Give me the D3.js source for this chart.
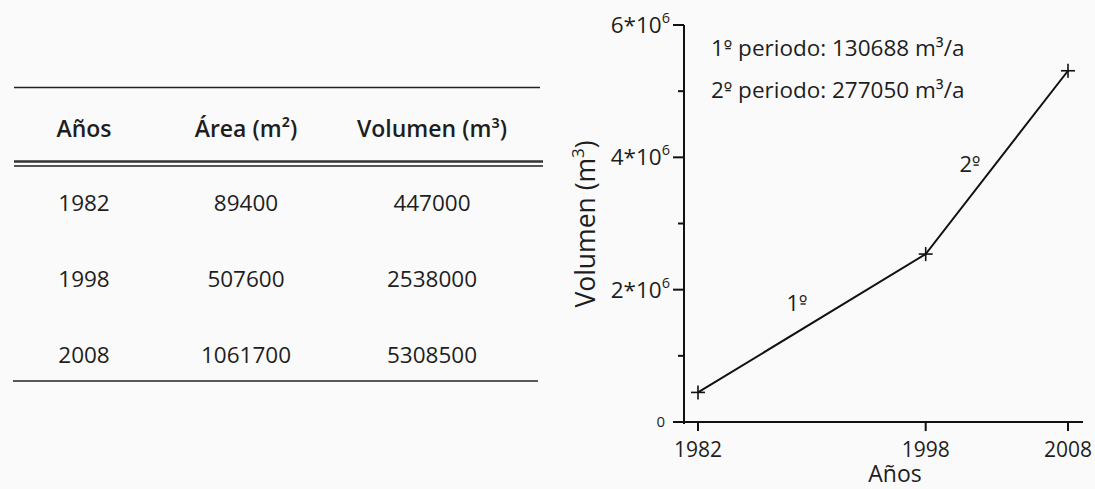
<!DOCTYPE html>
<html><head><meta charset="utf-8">
<script src="https://cdn.jsdelivr.net/npm/d3@7"></script>
<style>
html,body{margin:0;padding:0;background:#fafafa;}
text{font-family:"Open Sans",Lato,sans-serif;fill:#1e1e1e;}
</style></head>
<body>
<svg id="c" width="1095" height="489"></svg>
<script>
const years = [1982, 1998, 2008];
const areas = [89400, 507600, 1061700];
const volumes = [447000, 2538000, 5308500];
const headers = ["Años", "Área (m²)", "Volumen (m³)"];
const rates = ["1º periodo: 130688 m³/a", "2º periodo: 277050 m³/a"];
const periodLabels = ["1º", "2º"];
const yMajor = [0, 2e6, 4e6, 6e6];
const yMinor = [1e6, 3e6, 5e6];

const svg = d3.select("#c");
svg.append("rect").attr("width",1095).attr("height",489).attr("fill","#fafafa");

// text with the ordinal sign º drawn underlined (as in the source typeface)
function ordText(sel, str, size, baseY){
  sel.text(str);
  const node = sel.node();
  const parent = d3.select(node.parentNode);
  for(let i=0;i<str.length;i++){
    if(str[i]==="º"){
      const a = node.getStartPositionOfChar(i), b = node.getEndPositionOfChar(i);
      const uy = baseY - 0.33*size;
      parent.append("line").attr("x1",a.x+1.5).attr("x2",b.x-1.5).attr("y1",uy).attr("y2",uy)
        .attr("stroke","#1e1e1e").attr("stroke-width",1.4);
    }
  }
  return sel;
}

// ---- Table ----
const tbl = svg.append("g");
const colX = d3.scaleOrdinal().domain([0,1,2]).range([84, 246, 432]);
const rowY = d3.scalePoint().domain(years).range([211, 363]);
tbl.append("line").attr("x1",14).attr("x2",540).attr("y1",87.5).attr("y2",87.5).attr("stroke","#222").attr("stroke-width",1.6);
tbl.append("line").attr("x1",14).attr("x2",543).attr("y1",161.5).attr("y2",161.5).attr("stroke","#333").attr("stroke-width",2.6);
tbl.append("line").attr("x1",14).attr("x2",543).attr("y1",166).attr("y2",166).attr("stroke","#555").attr("stroke-width",1.8);
tbl.append("line").attr("x1",13).attr("x2",538).attr("y1",381).attr("y2",381).attr("stroke","#222").attr("stroke-width",1.6);

headers.forEach((h,i)=>{
  tbl.append("text").attr("x",colX(i)).attr("y",137).attr("text-anchor","middle")
    .attr("font-size",23).attr("font-weight",600).text(h);
});
const rows = years.map((y,i)=>[y, areas[i], volumes[i]]);
rows.forEach(r=>{
  r.forEach((v,i)=>{
    tbl.append("text").attr("x",colX(i)).attr("y",rowY(r[0])).attr("text-anchor","middle")
      .attr("font-size",22.5).text(v);
  });
});

// ---- Chart ----
const x = d3.scaleLinear().domain([1982, 2008]).range([698, 1068]);
const y = d3.scaleLinear().domain([0, 6e6]).range([422, 25]);
const axX = 684;

const g = svg.append("g");
g.append("line").attr("x1",axX).attr("x2",axX).attr("y1",y(6e6)).attr("y2",424).attr("stroke","#111").attr("stroke-width",2);
g.append("line").attr("x1",axX).attr("x2",1083).attr("y1",422).attr("y2",422).attr("stroke","#111").attr("stroke-width",2);

g.selectAll(".ymaj").data(yMajor).join("line")
  .attr("x1",axX-11).attr("x2",axX).attr("y1",d=>y(d)).attr("y2",d=>y(d)).attr("stroke","#111").attr("stroke-width",2);
g.selectAll(".ymin").data(yMinor).join("line")
  .attr("x1",axX-6).attr("x2",axX).attr("y1",d=>y(d)).attr("y2",d=>y(d)).attr("stroke","#111").attr("stroke-width",2);
yMajor.forEach(v=>{
  const t = g.append("text").attr("x",axX-14).attr("y",y(v)+8).attr("text-anchor","end");
  if(v===0){ t.attr("font-size",15).attr("x",axX-19).attr("y",y(v)+5).text("0"); }
  else {
    t.attr("font-size",22.5);
    t.append("tspan").text((v/1e6)+"*10");
    t.append("tspan").attr("font-size",14.5).attr("dy",-10).text("6");
  }
});
g.selectAll(".xt").data(years).join("line")
  .attr("x1",d=>x(d)).attr("x2",d=>x(d)).attr("y1",422).attr("y2",431).attr("stroke","#111").attr("stroke-width",2);
g.selectAll(".xl").data(years).join("text")
  .attr("x",d=>x(d)).attr("y",457).attr("text-anchor","middle").attr("font-size",21).text(d=>d);

g.append("text").attr("x",895).attr("y",482).attr("text-anchor","middle").attr("font-size",23).text("Años");
const yt = g.append("text").attr("transform","translate(595,224) rotate(-90)").attr("text-anchor","middle").attr("font-size",26.5);
yt.append("tspan").text("Volumen (m");
yt.append("tspan").attr("font-size",17).attr("dy",-11).text("3");
yt.append("tspan").attr("dy",11).text(")");

const pts = years.map((yr,i)=>[yr, volumes[i]]);
g.append("path").datum(pts).attr("fill","none").attr("stroke","#111").attr("stroke-width",2)
  .attr("d", d3.line().x(d=>x(d[0])).y(d=>y(d[1])));
const s = 7;
pts.forEach(p=>{
  const cx = x(p[0]), cy = y(p[1]);
  g.append("line").attr("x1",cx-s).attr("x2",cx+s).attr("y1",cy).attr("y2",cy).attr("stroke","#111").attr("stroke-width",1.6);
  g.append("line").attr("x1",cx).attr("x2",cx).attr("y1",cy-s).attr("y2",cy+s).attr("stroke","#111").attr("stroke-width",1.6);
});

rates.forEach((r,i)=>{
  const by = 56+i*42;
  ordText(g.append("text").attr("x",711).attr("y",by).attr("font-size",22.5), r, 22.5, by);
});
const mid = (a,b)=>[(a[0]+b[0])/2,(a[1]+b[1])/2];
const m1 = mid(pts[0],pts[1]), m2 = mid(pts[1],pts[2]);
const b1 = y(m1[1])-12, b2 = y(m2[1])+10;
ordText(g.append("text").attr("x",x(m1[0])-15).attr("y",b1).attr("text-anchor","middle").attr("font-size",22), periodLabels[0], 22, b1);
ordText(g.append("text").attr("x",x(m2[0])-27).attr("y",b2).attr("text-anchor","middle").attr("font-size",22), periodLabels[1], 22, b2);
</script>
</body></html>
